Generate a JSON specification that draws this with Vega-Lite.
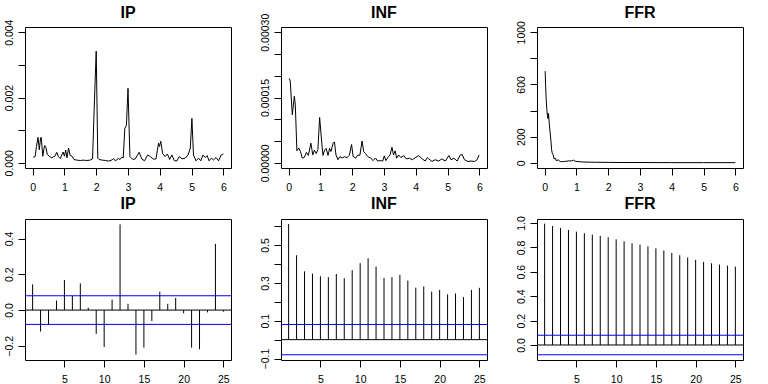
{
  "$schema": "https://vega.github.io/schema/vega-lite/v6.json",
  "padding": {"left": 3, "top": 4, "right": 0, "bottom": 0},
  "background": "white",
  "config": {
    "font": "Liberation Sans",
    "view": {"stroke": "black", "strokeWidth": 1},
    "axis": {"domain": false, "grid": false, "ticks": true, "tickColor": "black", "tickSize": 7, "tickWidth": 1, "labelColor": "black", "labelFontSize": 10.5, "labelFont": "Liberation Sans", "labelPadding": 4, "labelFlush": false, "labelOverlap": false, "labelBound": false, "title": null},
    "axisX": {"labelPadding": 7},
    "axisY": {"labelAngle": 270, "labelAlign": "center", "labelBaseline": "bottom", "labelPadding": 4, "labelOverlap": false},
    "title": {"fontSize": 16, "fontWeight": "bold", "font": "Liberation Sans", "color": "black", "baseline": "alphabetic", "frame": "group"}
  },
  "datasets": {
    "ip_spec": [
      {"freq": 0.02, "spec": 0.00017}, {"freq": 0.08, "spec": 0.00019}, {"freq": 0.12, "spec": 0.0005}, {"freq": 0.17, "spec": 0.00078},
      {"freq": 0.21, "spec": 0.0004}, {"freq": 0.25, "spec": 0.00076}, {"freq": 0.27, "spec": 0.00078}, {"freq": 0.32, "spec": 0.0002},
      {"freq": 0.36, "spec": 0.00045}, {"freq": 0.38, "spec": 0.00053}, {"freq": 0.42, "spec": 0.00047}, {"freq": 0.46, "spec": 0.00026},
      {"freq": 0.52, "spec": 0.0002}, {"freq": 0.6, "spec": 0.00015}, {"freq": 0.65, "spec": 0.00018}, {"freq": 0.7, "spec": 0.0002},
      {"freq": 0.76, "spec": 0.00032}, {"freq": 0.81, "spec": 0.00019}, {"freq": 0.87, "spec": 0.00013}, {"freq": 0.93, "spec": 0.00027},
      {"freq": 0.96, "spec": 0.00033}, {"freq": 1.0, "spec": 0.0002}, {"freq": 1.04, "spec": 0.00039}, {"freq": 1.08, "spec": 0.00015},
      {"freq": 1.13, "spec": 0.00045}, {"freq": 1.18, "spec": 0.00023}, {"freq": 1.24, "spec": 0.0002}, {"freq": 1.3, "spec": 0.0001},
      {"freq": 1.4, "spec": 0.00008}, {"freq": 1.5, "spec": 0.00007}, {"freq": 1.6, "spec": 0.00008}, {"freq": 1.7, "spec": 0.00007},
      {"freq": 1.8, "spec": 0.00008}, {"freq": 1.885, "spec": 0.00012}, {"freq": 1.94, "spec": 0.00177}, {"freq": 2.0, "spec": 0.00342},
      {"freq": 2.05, "spec": 0.00014}, {"freq": 2.09, "spec": 0.0001}, {"freq": 2.2, "spec": 0.00008}, {"freq": 2.3, "spec": 0.00007},
      {"freq": 2.4, "spec": 0.00005}, {"freq": 2.5, "spec": 0.00009}, {"freq": 2.545, "spec": 0.00013}, {"freq": 2.6, "spec": 0.00006},
      {"freq": 2.7, "spec": 0.00013}, {"freq": 2.75, "spec": 0.0001}, {"freq": 2.8, "spec": 0.00017}, {"freq": 2.85, "spec": 0.00015},
      {"freq": 2.9, "spec": 0.00105}, {"freq": 2.95, "spec": 0.00115}, {"freq": 3.0, "spec": 0.00228}, {"freq": 3.06, "spec": 0.00019},
      {"freq": 3.15, "spec": 0.0001}, {"freq": 3.23, "spec": 0.00012}, {"freq": 3.35, "spec": 0.00032}, {"freq": 3.44, "spec": 0.00011},
      {"freq": 3.52, "spec": 0.00006}, {"freq": 3.62, "spec": 0.00024}, {"freq": 3.7, "spec": 0.00019}, {"freq": 3.8, "spec": 0.00011},
      {"freq": 3.88, "spec": 0.00012}, {"freq": 3.96, "spec": 0.0006}, {"freq": 3.99, "spec": 0.0005}, {"freq": 4.03, "spec": 0.00066},
      {"freq": 4.09, "spec": 0.00028}, {"freq": 4.17, "spec": 0.00019}, {"freq": 4.24, "spec": 0.00027}, {"freq": 4.31, "spec": 0.0001},
      {"freq": 4.38, "spec": 0.00024}, {"freq": 4.46, "spec": 0.00006}, {"freq": 4.54, "spec": 0.00006}, {"freq": 4.61, "spec": 0.00019},
      {"freq": 4.7, "spec": 0.00012}, {"freq": 4.8, "spec": 0.00014}, {"freq": 4.89, "spec": 0.00024}, {"freq": 4.96, "spec": 0.00045},
      {"freq": 5.01, "spec": 0.00136}, {"freq": 5.06, "spec": 0.00024}, {"freq": 5.14, "spec": 0.00006}, {"freq": 5.22, "spec": 0.00014},
      {"freq": 5.29, "spec": 0.00006}, {"freq": 5.36, "spec": 0.00024}, {"freq": 5.43, "spec": 0.00016}, {"freq": 5.49, "spec": 0.00022},
      {"freq": 5.55, "spec": 0.00006}, {"freq": 5.62, "spec": 0.00014}, {"freq": 5.69, "spec": 0.00009}, {"freq": 5.77, "spec": 0.00016},
      {"freq": 5.85, "spec": 0.00006}, {"freq": 5.93, "spec": 0.00024}, {"freq": 6.0, "spec": 0.00027}
    ],
    "inf_spec": [
      {"freq": 0.02, "spec": 0.000194}, {"freq": 0.05, "spec": 0.000188}, {"freq": 0.116, "spec": 0.00011}, {"freq": 0.18, "spec": 0.000153},
      {"freq": 0.21, "spec": 0.000133}, {"freq": 0.26, "spec": 0.0000275}, {"freq": 0.32, "spec": 0.000034}, {"freq": 0.37, "spec": 0.000026},
      {"freq": 0.43, "spec": 0.0000107}, {"freq": 0.49, "spec": 0.000012}, {"freq": 0.56, "spec": 0.000024}, {"freq": 0.62, "spec": 0.000017},
      {"freq": 0.7, "spec": 0.000045}, {"freq": 0.76, "spec": 0.000018}, {"freq": 0.81, "spec": 0.000029}, {"freq": 0.87, "spec": 0.000021},
      {"freq": 0.92, "spec": 0.00003}, {"freq": 0.975, "spec": 0.000104}, {"freq": 1.04, "spec": 0.000048}, {"freq": 1.08, "spec": 0.000017},
      {"freq": 1.13, "spec": 0.000029}, {"freq": 1.18, "spec": 0.000033}, {"freq": 1.24, "spec": 0.000017}, {"freq": 1.29, "spec": 0.000033},
      {"freq": 1.33, "spec": 0.000026}, {"freq": 1.4, "spec": 0.000045}, {"freq": 1.44, "spec": 0.000048}, {"freq": 1.49, "spec": 0.000018},
      {"freq": 1.55, "spec": 0.000007}, {"freq": 1.61, "spec": 0.000014}, {"freq": 1.68, "spec": 0.000011}, {"freq": 1.76, "spec": 0.000014},
      {"freq": 1.84, "spec": 0.000012}, {"freq": 1.91, "spec": 0.000017}, {"freq": 1.98, "spec": 0.000042}, {"freq": 2.03, "spec": 0.000014},
      {"freq": 2.11, "spec": 0.000011}, {"freq": 2.18, "spec": 0.000018}, {"freq": 2.24, "spec": 0.000017}, {"freq": 2.31, "spec": 0.00005},
      {"freq": 2.36, "spec": 0.000026}, {"freq": 2.42, "spec": 0.000021}, {"freq": 2.49, "spec": 0.000014}, {"freq": 2.57, "spec": 0.000011},
      {"freq": 2.66, "spec": 0.000005}, {"freq": 2.73, "spec": 0.000011}, {"freq": 2.8, "spec": 0.000004}, {"freq": 2.88, "spec": 0.000005},
      {"freq": 2.96, "spec": 0.000004}, {"freq": 3.01, "spec": 0.000016}, {"freq": 3.06, "spec": 0.000005}, {"freq": 3.12, "spec": 0.000012},
      {"freq": 3.19, "spec": 0.000018}, {"freq": 3.25, "spec": 0.0000357}, {"freq": 3.3, "spec": 0.000018}, {"freq": 3.35, "spec": 0.0000275},
      {"freq": 3.4, "spec": 0.0000105}, {"freq": 3.46, "spec": 0.000018}, {"freq": 3.53, "spec": 0.000012}, {"freq": 3.62, "spec": 0.0000165},
      {"freq": 3.7, "spec": 0.000009}, {"freq": 3.8, "spec": 0.0000105}, {"freq": 3.89, "spec": 0.000007}, {"freq": 3.99, "spec": 0.000012},
      {"freq": 4.09, "spec": 0.0000165}, {"freq": 4.2, "spec": 0.000009}, {"freq": 4.3, "spec": 0.000004}, {"freq": 4.36, "spec": 0.000012},
      {"freq": 4.41, "spec": 0.000009}, {"freq": 4.51, "spec": 0.000003}, {"freq": 4.61, "spec": 0.000007}, {"freq": 4.72, "spec": 0.000004},
      {"freq": 4.82, "spec": 0.000009}, {"freq": 4.93, "spec": 0.000004}, {"freq": 5.04, "spec": 0.0000165}, {"freq": 5.11, "spec": 0.000007},
      {"freq": 5.2, "spec": 0.0000105}, {"freq": 5.3, "spec": 0.000004}, {"freq": 5.4, "spec": 0.000018}, {"freq": 5.46, "spec": 0.000019},
      {"freq": 5.53, "spec": 0.000007}, {"freq": 5.64, "spec": 0.000003}, {"freq": 5.74, "spec": 0.000004}, {"freq": 5.85, "spec": 0.000003},
      {"freq": 5.93, "spec": 0.000007}, {"freq": 5.99, "spec": 0.000018}
    ],
    "ffr_spec": [
      {"freq": 0.017, "spec": 702}, {"freq": 0.03, "spec": 595}, {"freq": 0.05, "spec": 480}, {"freq": 0.075, "spec": 392},
      {"freq": 0.1, "spec": 340}, {"freq": 0.12, "spec": 379}, {"freq": 0.15, "spec": 290}, {"freq": 0.2, "spec": 163},
      {"freq": 0.22, "spec": 100}, {"freq": 0.24, "spec": 73}, {"freq": 0.27, "spec": 60}, {"freq": 0.3, "spec": 30},
      {"freq": 0.34, "spec": 35}, {"freq": 0.37, "spec": 15}, {"freq": 0.43, "spec": 22}, {"freq": 0.49, "spec": 10},
      {"freq": 0.55, "spec": 8}, {"freq": 0.6, "spec": 10}, {"freq": 0.7, "spec": 12}, {"freq": 0.76, "spec": 15},
      {"freq": 0.85, "spec": 14}, {"freq": 0.91, "spec": 20}, {"freq": 0.96, "spec": 12}, {"freq": 1.02, "spec": 10},
      {"freq": 1.2, "spec": 6}, {"freq": 1.4, "spec": 5}, {"freq": 1.6, "spec": 4}, {"freq": 2.0, "spec": 3},
      {"freq": 2.5, "spec": 2}, {"freq": 3.0, "spec": 2}, {"freq": 4.0, "spec": 1}, {"freq": 5.0, "spec": 1}, {"freq": 6.0, "spec": 1}
    ],
    "acf": [
      {"series": "IP", "lag": 1, "acf": 0.144}, {"series": "IP", "lag": 2, "acf": -0.12}, {"series": "IP", "lag": 3, "acf": -0.079},
      {"series": "IP", "lag": 4, "acf": 0.053}, {"series": "IP", "lag": 5, "acf": 0.168}, {"series": "IP", "lag": 6, "acf": 0.079},
      {"series": "IP", "lag": 7, "acf": 0.149}, {"series": "IP", "lag": 8, "acf": 0.013}, {"series": "IP", "lag": 9, "acf": -0.133},
      {"series": "IP", "lag": 10, "acf": -0.206}, {"series": "IP", "lag": 11, "acf": 0.059}, {"series": "IP", "lag": 12, "acf": 0.479},
      {"series": "IP", "lag": 13, "acf": 0.035}, {"series": "IP", "lag": 14, "acf": -0.249}, {"series": "IP", "lag": 15, "acf": -0.21},
      {"series": "IP", "lag": 16, "acf": -0.061}, {"series": "IP", "lag": 17, "acf": 0.103}, {"series": "IP", "lag": 18, "acf": 0.035},
      {"series": "IP", "lag": 19, "acf": 0.068}, {"series": "IP", "lag": 20, "acf": -0.018}, {"series": "IP", "lag": 21, "acf": -0.21},
      {"series": "IP", "lag": 22, "acf": -0.219}, {"series": "IP", "lag": 23, "acf": -0.013}, {"series": "IP", "lag": 24, "acf": 0.37},
      {"series": "IP", "lag": 25, "acf": -0.009},
      {"series": "INF", "lag": 1, "acf": 0.611}, {"series": "INF", "lag": 2, "acf": 0.446}, {"series": "INF", "lag": 3, "acf": 0.361},
      {"series": "INF", "lag": 4, "acf": 0.349}, {"series": "INF", "lag": 5, "acf": 0.335}, {"series": "INF", "lag": 6, "acf": 0.33},
      {"series": "INF", "lag": 7, "acf": 0.347}, {"series": "INF", "lag": 8, "acf": 0.325}, {"series": "INF", "lag": 9, "acf": 0.367},
      {"series": "INF", "lag": 10, "acf": 0.404}, {"series": "INF", "lag": 11, "acf": 0.43}, {"series": "INF", "lag": 12, "acf": 0.386},
      {"series": "INF", "lag": 13, "acf": 0.326}, {"series": "INF", "lag": 14, "acf": 0.33}, {"series": "INF", "lag": 15, "acf": 0.342},
      {"series": "INF", "lag": 16, "acf": 0.312}, {"series": "INF", "lag": 17, "acf": 0.275}, {"series": "INF", "lag": 18, "acf": 0.281},
      {"series": "INF", "lag": 19, "acf": 0.254}, {"series": "INF", "lag": 20, "acf": 0.263}, {"series": "INF", "lag": 21, "acf": 0.239},
      {"series": "INF", "lag": 22, "acf": 0.244}, {"series": "INF", "lag": 23, "acf": 0.225}, {"series": "INF", "lag": 24, "acf": 0.263},
      {"series": "INF", "lag": 25, "acf": 0.274},
      {"series": "FFR", "lag": 1, "acf": 0.995}, {"series": "FFR", "lag": 2, "acf": 0.975}, {"series": "FFR", "lag": 3, "acf": 0.959},
      {"series": "FFR", "lag": 4, "acf": 0.943}, {"series": "FFR", "lag": 5, "acf": 0.929}, {"series": "FFR", "lag": 6, "acf": 0.916},
      {"series": "FFR", "lag": 7, "acf": 0.905}, {"series": "FFR", "lag": 8, "acf": 0.894}, {"series": "FFR", "lag": 9, "acf": 0.883},
      {"series": "FFR", "lag": 10, "acf": 0.866}, {"series": "FFR", "lag": 11, "acf": 0.85}, {"series": "FFR", "lag": 12, "acf": 0.834},
      {"series": "FFR", "lag": 13, "acf": 0.823}, {"series": "FFR", "lag": 14, "acf": 0.809}, {"series": "FFR", "lag": 15, "acf": 0.793},
      {"series": "FFR", "lag": 16, "acf": 0.774}, {"series": "FFR", "lag": 17, "acf": 0.755}, {"series": "FFR", "lag": 18, "acf": 0.736},
      {"series": "FFR", "lag": 19, "acf": 0.717}, {"series": "FFR", "lag": 20, "acf": 0.698}, {"series": "FFR", "lag": 21, "acf": 0.681},
      {"series": "FFR", "lag": 22, "acf": 0.67}, {"series": "FFR", "lag": 23, "acf": 0.659}, {"series": "FFR", "lag": 24, "acf": 0.651},
      {"series": "FFR", "lag": 25, "acf": 0.643}
    ],
    "zero": [{"level": 0}],
    "ci": [{"ci": 0.08}, {"ci": -0.08}]
  },
  "columns": 3,
  "spacing": {"row": 51, "column": 50},
  "bounds": "flush",
  "concat": [
    {
      "width": 206, "height": 141, "title": {"text": "IP", "offset": -2},
      "data": {"name": "ip_spec"},
      "mark": {"type": "line", "color": "black", "strokeWidth": 1},
      "encoding": {
        "x": {"field": "freq", "type": "quantitative", "title": null, "scale": {"domain": [-0.24, 6.24], "nice": false, "zero": false}, "axis": {"values": [0, 1, 2, 3, 4, 5, 6], "labelOverlap": false}},
        "y": {"field": "spec", "type": "quantitative", "title": null, "scale": {"domain": [-0.00016, 0.00416], "nice": false, "zero": false}, "axis": {"values": [0, 0.001, 0.002, 0.003, 0.004], "labelOverlap": false, "labelExpr": "datum.value == 0.001 || datum.value == 0.003 ? '' : format(datum.value, '.3f')"}}
      }
    },
    {
      "width": 206, "height": 141, "title": {"text": "INF", "offset": -7.3},
      "data": {"name": "inf_spec"},
      "mark": {"type": "line", "color": "black", "strokeWidth": 1},
      "encoding": {
        "x": {"field": "freq", "type": "quantitative", "title": null, "scale": {"domain": [-0.24, 6.24], "nice": false, "zero": false}, "axis": {"values": [0, 1, 2, 3, 4, 5, 6], "labelOverlap": false}},
        "y": {"field": "spec", "type": "quantitative", "title": null, "scale": {"domain": [-0.000012, 0.000312], "nice": false, "zero": false}, "axis": {"values": [0, 0.00005, 0.0001, 0.00015, 0.0002, 0.00025, 0.0003], "labelOverlap": false, "labelExpr": "datum.value == 0 || datum.value == 0.00015 || datum.value == 0.0003 ? format(datum.value, '.5f') : ''"}}
      }
    },
    {
      "width": 206, "height": 141, "title": {"text": "FFR", "offset": 0},
      "data": {"name": "ffr_spec"},
      "mark": {"type": "line", "color": "black", "strokeWidth": 1},
      "encoding": {
        "x": {"field": "freq", "type": "quantitative", "title": null, "scale": {"domain": [-0.24, 6.24], "nice": false, "zero": false}, "axis": {"values": [0, 1, 2, 3, 4, 5, 6], "labelOverlap": false}},
        "y": {"field": "spec", "type": "quantitative", "title": null, "scale": {"domain": [-40, 1040], "nice": false, "zero": false}, "axis": {"values": [0, 200, 400, 600, 800, 1000], "labelOverlap": false, "labelExpr": "datum.value == 400 || datum.value == 800 ? '' : format(datum.value, 'd')"}}
      }
    },
    {
      "width": 206, "height": 141, "title": {"text": "IP", "offset": 6.7},
      "layer": [
        {
          "data": {"name": "acf"},
          "transform": [{"filter": "datum.series == 'IP'"}],
          "mark": {"type": "rule", "color": "black", "strokeWidth": 1},
          "encoding": {
            "x": {"field": "lag", "type": "quantitative", "title": null, "scale": {"domain": [0.04, 25.96], "nice": false, "zero": false}, "axis": {"values": [5, 10, 15, 20, 25], "labelOverlap": false}},
            "y": {"field": "acf", "type": "quantitative", "title": null, "scale": {"domain": [-0.279, 0.509], "nice": false, "zero": false}, "axis": {"values": [-0.2, 0, 0.2, 0.4], "labelExpr": "format(datum.value, '.1f')", "labelOverlap": false}},
            "y2": {"datum": 0}
          }
        },
        {"data": {"name": "zero"}, "mark": {"type": "rule", "color": "black", "strokeWidth": 1}, "encoding": {"y": {"field": "level", "type": "quantitative", "title": null, "axis": {"values": [-0.2, 0, 0.2, 0.4], "labelExpr": "format(datum.value, '.1f')", "labelOverlap": false}}}},
        {"data": {"name": "ci"}, "mark": {"type": "rule", "color": "#0000ff", "strokeWidth": 1}, "encoding": {"y": {"field": "ci", "type": "quantitative", "title": null, "axis": {"values": [-0.2, 0, 0.2, 0.4], "labelExpr": "format(datum.value, '.1f')", "labelOverlap": false}}}}
      ]
    },
    {
      "width": 206, "height": 141, "title": {"text": "INF", "offset": 6.7},
      "layer": [
        {
          "data": {"name": "acf"},
          "transform": [{"filter": "datum.series == 'INF'"}],
          "mark": {"type": "rule", "color": "black", "strokeWidth": 1},
          "encoding": {
            "x": {"field": "lag", "type": "quantitative", "title": null, "scale": {"domain": [0.04, 25.96], "nice": false, "zero": false}, "axis": {"values": [5, 10, 15, 20, 25], "labelOverlap": false}},
            "y": {"field": "acf", "type": "quantitative", "title": null, "scale": {"domain": [-0.1076, 0.6376], "nice": false, "zero": false}, "axis": {"values": [-0.1, 0, 0.1, 0.2, 0.3, 0.4, 0.5, 0.6], "labelOverlap": false, "labelExpr": "indexof([-0.1, 0.1, 0.3, 0.5], datum.value) >= 0 ? format(datum.value, '.1f') : ''"}},
            "y2": {"datum": 0}
          }
        },
        {"data": {"name": "zero"}, "mark": {"type": "rule", "color": "black", "strokeWidth": 1}, "encoding": {"y": {"field": "level", "type": "quantitative", "title": null, "axis": {"values": [-0.1, 0, 0.1, 0.2, 0.3, 0.4, 0.5, 0.6], "labelOverlap": false, "labelExpr": "indexof([-0.1, 0.1, 0.3, 0.5], datum.value) >= 0 ? format(datum.value, '.1f') : ''"}}}},
        {"data": {"name": "ci"}, "mark": {"type": "rule", "color": "#0000ff", "strokeWidth": 1}, "encoding": {"y": {"field": "ci", "type": "quantitative", "title": null, "axis": {"values": [-0.1, 0, 0.1, 0.2, 0.3, 0.4, 0.5, 0.6], "labelOverlap": false, "labelExpr": "indexof([-0.1, 0.1, 0.3, 0.5], datum.value) >= 0 ? format(datum.value, '.1f') : ''"}}}}
      ]
    },
    {
      "width": 206, "height": 141, "title": {"text": "FFR", "offset": 3.4},
      "layer": [
        {
          "data": {"name": "acf"},
          "transform": [{"filter": "datum.series == 'FFR'"}],
          "mark": {"type": "rule", "color": "black", "strokeWidth": 1},
          "encoding": {
            "x": {"field": "lag", "type": "quantitative", "title": null, "scale": {"domain": [0.04, 25.96], "nice": false, "zero": false}, "axis": {"values": [5, 10, 15, 20, 25], "labelOverlap": false}},
            "y": {"field": "acf", "type": "quantitative", "title": null, "scale": {"domain": [-0.123, 1.033], "nice": false, "zero": false}, "axis": {"values": [0, 0.2, 0.4, 0.6, 0.8, 1], "labelExpr": "format(datum.value, '.1f')", "labelOverlap": false}},
            "y2": {"datum": 0}
          }
        },
        {"data": {"name": "zero"}, "mark": {"type": "rule", "color": "black", "strokeWidth": 1}, "encoding": {"y": {"field": "level", "type": "quantitative", "title": null, "axis": {"values": [0, 0.2, 0.4, 0.6, 0.8, 1], "labelExpr": "format(datum.value, '.1f')", "labelOverlap": false}}}},
        {"data": {"name": "ci"}, "mark": {"type": "rule", "color": "#0000ff", "strokeWidth": 1}, "encoding": {"y": {"field": "ci", "type": "quantitative", "title": null, "axis": {"values": [0, 0.2, 0.4, 0.6, 0.8, 1], "labelExpr": "format(datum.value, '.1f')", "labelOverlap": false}}}}
      ]
    }
  ]
}
